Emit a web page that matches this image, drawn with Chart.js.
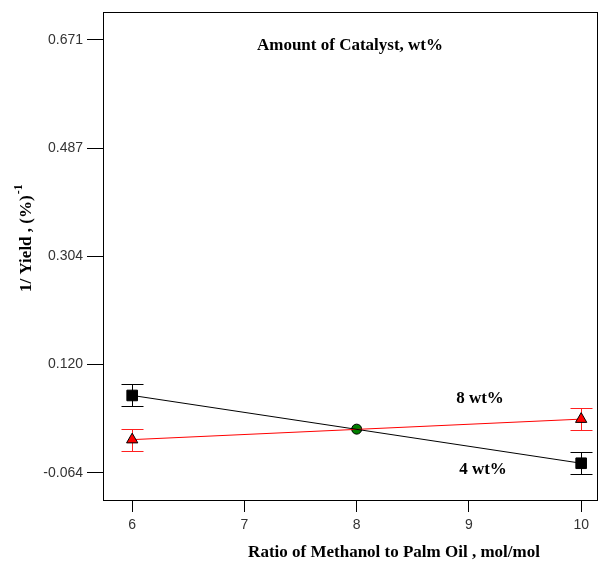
<!DOCTYPE html>
<html>
<head>
<meta charset="utf-8">
<script src="https://cdn.jsdelivr.net/npm/chart.js@4.4.0/dist/chart.umd.min.js"></script>
<style>
  body { margin: 0; background: #fff; }
</style>
</head>
<body>
<canvas id="chart" width="601" height="565"></canvas>
<script>
const ratioValues = [6, 10];
const catalyst4 = [0.0675, -0.0476];
const catalyst8 = [-0.0075, 0.0273];
const errors4 = [0.0187, 0.0187];
const errors8 = [0.0187, 0.0187];
const centerRatio = [8];
const centerValue = [0.0103];
const yTickValues = [-0.064, 0.120, 0.304, 0.487, 0.671];
const yTickLabels = ['-0.064', '0.120', '0.304', '0.487', '0.671'];
const xTickValues = [6, 7, 8, 9, 10];

const SERIF = '"Liberation Serif", "Times New Roman", serif';
const SANS = '"Liberation Sans", Arial, sans-serif';

function toPoints(xs, ys) {
    return xs.map((x, i) => ({ x: x, y: ys[i] }));
}

const errorBars = {
    id: 'errorBars',
    beforeDatasetsDraw(chart) {
        const ctx = chart.ctx;
        const xs = chart.scales.x;
        const ys = chart.scales.y;
        const sets = [
            { vals: catalyst4, err: errors4, color: '#000000' },
            { vals: catalyst8, err: errors8, color: '#ff2020' }
        ];
        ctx.save();
        ctx.lineWidth = 1;
        sets.forEach(s => {
            ctx.strokeStyle = s.color;
            ratioValues.forEach((r, i) => {
                const px = Math.round(xs.getPixelForValue(r)) + 0.5;
                const top = Math.round(ys.getPixelForValue(s.vals[i] + s.err[i])) + 0.5;
                const bot = Math.round(ys.getPixelForValue(s.vals[i] - s.err[i])) + 0.5;
                ctx.beginPath();
                ctx.moveTo(px, top); ctx.lineTo(px, bot);
                ctx.moveTo(px - 11, top); ctx.lineTo(px + 11, top);
                ctx.moveTo(px - 11, bot); ctx.lineTo(px + 11, bot);
                ctx.stroke();
            });
        });
        ctx.restore();
    }
};

const frameAndText = {
    id: 'frameAndText',
    afterDraw(chart) {
        const ctx = chart.ctx;
        const a = chart.chartArea;
        ctx.save();
        ctx.strokeStyle = '#000';
        ctx.lineWidth = 1;
        ctx.strokeRect(Math.round(a.left) + 0.5, Math.round(a.top) + 0.5,
            Math.round(a.right - a.left) - 1, Math.round(a.bottom - a.top));

        ctx.fillStyle = '#000';
        ctx.font = 'bold 17px ' + SERIF;
        ctx.textAlign = 'center';
        ctx.textBaseline = 'middle';
        ctx.fillText('Amount of Catalyst, wt%', 350, 46);
        ctx.fillText('8 wt%', 480, 399);
        ctx.fillText('4 wt%', 483, 470);
        ctx.fillText('Ratio of Methanol to Palm Oil , mol/mol', 394, 553);

        // y title with superscript, reading bottom to top
        ctx.translate(27, 292);
        ctx.rotate(-Math.PI / 2);
        const main = '1/ Yield , (%)';
        ctx.textAlign = 'left';
        ctx.font = 'bold 17px ' + SERIF;
        const wMain = ctx.measureText(main).width;
        ctx.fillText(main, 0, 0);
        ctx.font = 'bold 12px ' + SERIF;
        ctx.fillText('-1', wMain + 1, -8);
        ctx.restore();
    }
};

new Chart(document.getElementById('chart').getContext('2d'), {
    type: 'scatter',
    data: {
        datasets: [
            {
                label: '4 wt%',
                data: toPoints(ratioValues, catalyst4),
                showLine: true,
                borderColor: '#000000',
                borderWidth: 1,
                pointStyle: 'rect',
                pointRadius: 7.5,
                pointBackgroundColor: '#000000',
                pointBorderColor: '#000000',
                pointBorderWidth: 1
            },
            {
                label: '8 wt%',
                data: toPoints(ratioValues, catalyst8),
                showLine: true,
                borderColor: '#ff0000',
                borderWidth: 1,
                pointStyle: 'triangle',
                pointRadius: 6.5,
                pointBackgroundColor: '#ff0000',
                pointBorderColor: '#000000',
                pointBorderWidth: 1
            },
            {
                label: 'center',
                data: toPoints(centerRatio, centerValue),
                pointStyle: 'circle',
                pointRadius: 5,
                pointBackgroundColor: '#008000',
                pointBorderColor: '#000000',
                pointBorderWidth: 1
            }
        ]
    },
    options: {
        responsive: false,
        animation: false,
        layout: { autoPadding: false, padding: { top: 12, right: 3, left: 0, bottom: 0 } },
        plugins: {
            legend: { display: false },
            tooltip: { enabled: false }
        },
        scales: {
            x: {
                type: 'linear',
                min: 5.74,
                max: 10.15,
                afterFit(scale) {
                    scale.height = 65;
                    scale.paddingLeft = 0;
                    scale.paddingRight = 0;
                },
                afterBuildTicks(scale) { scale.ticks = xTickValues.map(v => ({ value: v })); },
                grid: { drawOnChartArea: false, tickLength: 12, color: '#000' },
                border: { display: false },
                ticks: {
                    padding: 5,
                    color: '#333',
                    font: { family: SANS, size: 14 },
                    callback: v => String(v)
                }
            },
            y: {
                type: 'linear',
                min: -0.110,
                max: 0.7185,
                afterFit(scale) {
                    scale.width = 103;
                    scale.paddingTop = 0;
                    scale.paddingBottom = 0;
                },
                afterBuildTicks(scale) { scale.ticks = yTickValues.map(v => ({ value: v })); },
                grid: { drawOnChartArea: false, tickLength: 16, color: '#000' },
                border: { display: false },
                ticks: {
                    padding: 4,
                    color: '#333',
                    font: { family: SANS, size: 14 },
                    callback: v => yTickLabels[yTickValues.indexOf(v)]
                }
            }
        }
    },
    plugins: [errorBars, frameAndText]
});
</script>
</body>
</html>
